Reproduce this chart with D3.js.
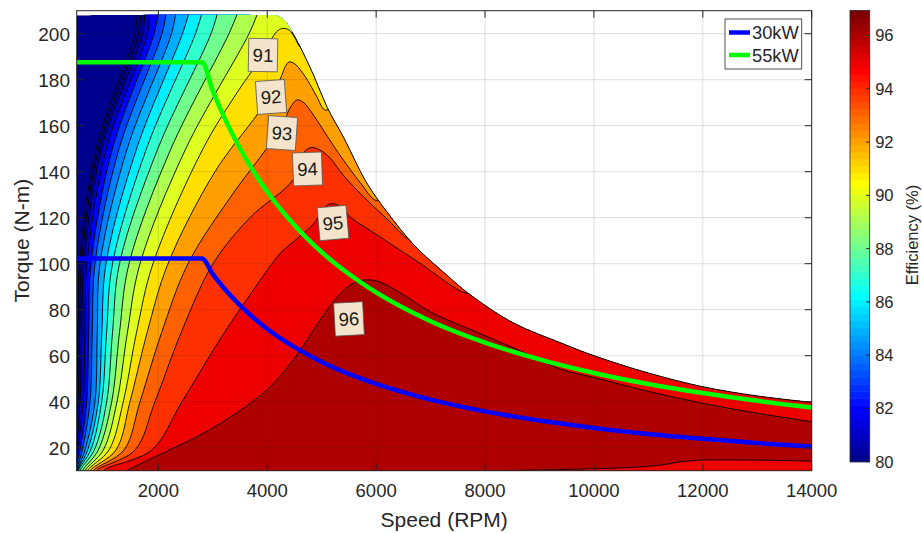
<!DOCTYPE html>
<html><head><meta charset="utf-8">
<script src="https://cdn.jsdelivr.net/npm/d3@7"></script>
<style>
body{margin:0;background:#fff;}
svg{display:block;font-family:"Liberation Sans",Arial,Helvetica,sans-serif;}
</style>
</head><body>
<svg id="chart" width="922" height="533"></svg>
<script>
// ---------------- data ----------------
const speedTicks = [2000, 4000, 6000, 8000, 10000, 12000, 14000];
const torqueTicks = [20, 40, 60, 80, 100, 120, 140, 160, 180, 200];
const colorbarTicks = [80, 82, 84, 86, 88, 90, 92, 94, 96];
const colorRange = [80, 96.94];

const contourLevels = [79, 80, 81, 82, 83, 84, 85, 86, 87, 88, 89, 90, 91, 92, 93, 94, 95, 96];

// each contour: [speed (RPM), torque (N-m)]
const contour79 = [[470,40],[500,45],[525,70],[551,100],[858,150],[1571,200],[1610,209]];
const contour80 = [[470,29],[500,33],[524,40],[553,70],[588,100],[902,150],[1635,200],[1675,209]];
const contour81 = [[470,18],[500,22],[561,40],[594,70],[634,100],[957,150],[1709,200],[1748,209]];
const contour82 = [[470,12],[500,16],[518,19],[621,40],[652,70],[689,100],[1045,150],[1800,200],[1840,209]];
const contour83 = [[470,9],[500,13],[561,19],[684,40],[719,70],[763,100],[1156,150],[1920,200],[1996,209]];
const contour84 = [[490,8],[500,10.5],[603,19],[744,40],[787,70],[836,100],[1279,150],[2067,200],[2145,209]];
const contour85 = [[505,8],[511,10],[652,19],[836,40],[878,70],[928,100],[1428,150],[2241,200],[2320,209]];
const contour86 = [[515,8],[520,10],[702,19],[897,40],[961,70],[1038,100],[1600,150],[2443,200],[2560,209]];
const contour87 = [[524,8],[529,10],[757,19],[959,40],[1049,70],[1158,100],[1782,150],[2682,200],[2800,209]];
const contour88 = [[555,8],[561,10],[823,19],[1051,40],[1158,70],[1286,100],[1991,150],[2967,200],[3085,209]];
const contour89 = [[603,8],[610,10],[897,19],[1143,40],[1286,70],[1461,100],[2232,150],[3297,200],[3455,209]];
const contour90 = [[644,8],[652,10],[989,19],[1240,40],[1431,70],[1663,100],[2504,150],[3665,200],[3825,209]];
const contour91 = [[685,8],[695,10],[1093,19],[1356,40],[1598,70],[1901,100],[2820,150],[3463,175],[3922,190.7],[4087,198.1],[4197,201.4],[4289,202.3],[4399,201.6],[4510,198.1],[4602,194.2],[4680,194]];
const contour92 = [[735,8],[744,10],[1222,19],[1479,40],[1793,70],[2177,100],[3040,140],[3834,165.5],[4234,180.1],[4326,185.5],[4399,187.7],[4510,186.8],[4639,183.3],[4749,179.4],[4896,173.3],[5060,166.8],[5200,168]];
const contour93 = [[795,8],[805,10],[1369,19],[1663,40],[2059,70],[2544,100],[3356,130],[3995,150.3],[4289,160.7],[4418,167.7],[4547,171.2],[4676,169.9],[4823,165.5],[5006,159],[5208,151.6],[5400,145],[5700,135.5],[6000,127.5],[6150,130]];
const contour94 = [[857,8],[867,10],[1571,19],[1938,40],[2418,70],[3004,100],[3683,120],[4474,136.4],[4602,145.1],[4712,149.4],[4822,150.5],[4969,149.4],[5152,146],[5391,138.6],[5827,127.7],[6181,119.9],[6622,110.3],[6800,110]];
const contour95 = [[979,8],[989,10],[1878,19],[2434,40],[3211,70],[4087,100],[4236,104.5],[4603,112],[4878,118.1],[5006,123.3],[5153,126],[5337,125.1],[5520,120.4],[6071,111.7],[6806,100.2],[7664,87.1],[7900,88]];
const contour96Upper = [[1350,9],[1418,10],[1800,14.5],[2200,19],[2765,25.5],[3377,34.2],[3990,45.1],[4479,58.2],[4969,75.5],[5300,86],[5580,91.5],[5830,93],[6100,91.8],[6500,86.5],[7000,79],[7900,69.7],[8800,60.5],[9400,54],[10000,50.5],[11000,44.5],[12000,39.3],[13000,35],[14000,31.3],[14200,30.6]];
const contour96Lower = [[7800,9.3],[8600,10.1],[9600,10.6],[10600,11.3],[11000,11.9],[11280,12.6],[11600,13.9],[12000,14.6],[13000,14.6],[14000,14.2],[14200,14.2]];

// maximum torque envelope of the map
const envelopeCurve = [[500,208],[4000,208],[4200,207.6],[4330,205.5],[4450,201],[4600,194.5],[4850,182],[5100,168],[5400,155],[5830,135],[6200,122.5],[6700,108],[7300,95],[7700,87],[8500,74.5],[9400,65.5],[10000,60],[11000,52.5],[12000,46.5],[13000,42.5],[14000,39.7]];

// constant power lines
const powerSpeeds = [500, 2800, 3000, 3250, 3500, 3750, 4000, 4500, 5000, 5500, 6000, 7000, 8000, 9000, 10000, 11000, 12000, 13000, 14000];
const torque30kW = [102.3, 102.3, 95.5, 88.1, 81.9, 76.4, 71.6, 63.7, 57.3, 52.1, 47.7, 40.9, 35.8, 31.8, 28.6, 26.0, 23.9, 22.0, 20.5];
const torque55kW = [187.6, 187.6, 175.1, 161.6, 150.1, 140.1, 131.3, 116.7, 105.0, 95.5, 87.5, 75.0, 65.7, 58.4, 52.5, 47.7, 43.8, 40.4, 37.5];
const seriesNames = ["30kW", "55kW"];
const seriesColors = ["#0000ff", "#00ff00"];

// contour labels
const labelText = ["91", "92", "93", "94", "95", "96"];
const labelSpeed = [3922, 4069, 4271, 4739, 5207, 5501];
const labelTorque = [190.7, 172.5, 156.8, 141.2, 117.7, 76.0];
const labelAngle = [1, -4, 4, -2, -5, -3];

// ---------------- drawing ----------------
const contourByLevel = {79:contour79,80:contour80,81:contour81,82:contour82,83:contour83,84:contour84,85:contour85,
  86:contour86,87:contour87,88:contour88,89:contour89,90:contour90,91:contour91,92:contour92,93:contour93,94:contour94,95:contour95};

const svg = d3.select("#chart");
const L = 76.7, R = 811.7, T = 10.7, B = 470.7;
const x = d3.scaleLinear().domain([500, 14000]).range([L, R]);
const y = d3.scaleLinear().domain([10, 210]).range([B, T]);
const ink = "#262626";

// MATLAB jet(64)
function jet64(k) { // k = 1..64
  let r, g, b;
  b = k <= 8 ? 0.5 + k/16 : k <= 24 ? 1 : k <= 40 ? (40-k)/16 : 0;
  g = k <= 8 ? 0 : k <= 24 ? (k-8)/16 : k <= 40 ? 1 : k <= 56 ? (56-k)/16 : 0;
  r = k <= 24 ? 0 : k <= 40 ? (k-24)/16 : k <= 56 ? 1 : (72-k)/16;
  const c = v => Math.round(Math.max(0, Math.min(1, v))*255);
  return `rgb(${c(r)},${c(g)},${c(b)})`;
}
function colorFor(v) {
  let k = Math.floor((v - colorRange[0]) / (colorRange[1] - colorRange[0]) * 64) + 1;
  k = Math.max(1, Math.min(64, k));
  return jet64(k);
}

const lineGen = d3.line().x(d => x(d[0])).y(d => y(d[1])).curve(d3.curveCatmullRom.alpha(0.5));

const defs = svg.append("defs");
const envPath = lineGen(envelopeCurve) + `L${x(14000)},${y(10)}L${x(500)},${y(10)}Z`;
defs.append("clipPath").attr("id", "envClip").append("path").attr("d", envPath);
defs.append("clipPath").attr("id", "plotClip").append("rect")
  .attr("x", L).attr("y", T).attr("width", R - L).attr("height", B - T);
defs.append("clipPath").attr("id", "edgeClip").append("rect")
  .attr("x", x(4450)).attr("y", T).attr("width", R - x(4450)).attr("height", B - T);

const map = svg.append("g").attr("clip-path", "url(#envClip)");
map.append("path").attr("d", envPath).attr("fill", colorFor(contourLevels[0] - 1));

contourLevels.forEach(lv => {
  if (lv === 96) return;
  const pts = contourByLevel[lv];
  const first = pts[0], last = pts[pts.length - 1];
  const d = `M${x(first[0])},${y(-50)}L` + lineGen(pts).slice(1) +
    `L${x(last[0])},${y(300)}L${x(20000)},${y(300)}L${x(20000)},${y(-50)}Z`;
  map.append("path").attr("d", d).attr("fill", colorFor(lv));
});
{
  const up = lineGen(contour96Upper);
  const lowRev = lineGen(contour96Lower.slice().reverse());
  map.append("path").attr("d", up + "L" + lowRev.slice(1) + "Z").attr("fill", colorFor(96));
}
contourLevels.forEach(lv => {
  if (lv === 96) return;
  map.append("path").attr("d", lineGen(contourByLevel[lv]))
    .attr("fill", "none").attr("stroke", "#000").attr("stroke-width", 0.9);
});
[contour96Upper, contour96Lower].forEach(pts => {
  map.append("path").attr("d", lineGen(pts))
    .attr("fill", "none").attr("stroke", "#000").attr("stroke-width", 0.9);
});
svg.append("g").attr("clip-path", "url(#edgeClip)").append("path")
  .attr("d", lineGen(envelopeCurve)).attr("fill", "none").attr("stroke", "#000").attr("stroke-width", 1);

// grid
const grid = svg.append("g").attr("stroke", "rgba(38,38,38,0.15)").attr("stroke-width", 1);
speedTicks.forEach(s => grid.append("line").attr("x1", x(s)).attr("x2", x(s)).attr("y1", T).attr("y2", B));
torqueTicks.forEach(t => grid.append("line").attr("x1", L).attr("x2", R).attr("y1", y(t)).attr("y2", y(t)));

// power lines
const plines = svg.append("g").attr("clip-path", "url(#plotClip)");
[torque30kW, torque55kW].forEach((arr, i) => {
  const pts = powerSpeeds.map((s, j) => [s, arr[j]]);
  plines.append("path").attr("d", d3.line().x(d => x(d[0])).y(d => y(d[1])).curve(d3.curveMonotoneX)(pts))
    .attr("fill", "none").attr("stroke", seriesColors[i]).attr("stroke-width", 4.5);
});

// contour labels
labelText.forEach((t, i) => {
  const g = svg.append("g").attr("transform", `translate(${x(labelSpeed[i])},${y(labelTorque[i])}) rotate(${labelAngle[i]})`);
  g.append("rect").attr("x", -14.5).attr("y", -16.5).attr("width", 29).attr("height", 33)
    .attr("fill", "#f3e4cb").attr("stroke", "#555").attr("stroke-width", 0.8);
  g.append("text").attr("text-anchor", "middle").attr("dy", "0.36em").attr("font-size", 18.5)
    .attr("fill", "#1a1a1a").text(t);
});

// axes box and ticks
const ax = svg.append("g");
ax.append("rect").attr("x", L).attr("y", T).attr("width", R - L).attr("height", B - T)
  .attr("fill", "none").attr("stroke", ink).attr("stroke-width", 1);
const tl = 7;
speedTicks.forEach(s => {
  ax.append("line").attr("x1", x(s)).attr("x2", x(s)).attr("y1", B).attr("y2", B - tl).attr("stroke", ink);
  ax.append("line").attr("x1", x(s)).attr("x2", x(s)).attr("y1", T).attr("y2", T + tl).attr("stroke", ink);
  ax.append("text").attr("x", x(s)).attr("y", 497).attr("text-anchor", "middle")
    .attr("font-size", 18.5).attr("fill", ink).text(s);
});
torqueTicks.forEach(t => {
  ax.append("line").attr("x1", L).attr("x2", L + tl).attr("y1", y(t)).attr("y2", y(t)).attr("stroke", ink);
  ax.append("line").attr("x1", R).attr("x2", R - tl).attr("y1", y(t)).attr("y2", y(t)).attr("stroke", ink);
  ax.append("text").attr("x", 70).attr("y", y(t)).attr("dy", "0.36em").attr("text-anchor", "end")
    .attr("font-size", 19).attr("fill", ink).text(t);
});
ax.append("text").attr("x", (L + R) / 2).attr("y", 527).attr("text-anchor", "middle")
  .attr("font-size", 21).attr("fill", ink).text("Speed (RPM)");
ax.append("text").attr("transform", `translate(29,${(T + B) / 2}) rotate(-90)`).attr("text-anchor", "middle")
  .attr("font-size", 21).attr("fill", ink).text("Torque (N-m)");

// colorbar
const cbX = 850, cbW = 19.7, cbTop = 10.5, cbBot = 461.7;
const cy = d3.scaleLinear().domain(colorRange).range([cbBot, cbTop]);
const cb = svg.append("g");
for (let k = 1; k <= 64; k++) {
  const v0 = colorRange[0] + (k - 1) / 64 * (colorRange[1] - colorRange[0]);
  const v1 = colorRange[0] + k / 64 * (colorRange[1] - colorRange[0]);
  cb.append("rect").attr("x", cbX).attr("y", cy(v1)).attr("width", cbW).attr("height", cy(v0) - cy(v1) + 0.6)
    .attr("fill", jet64(k));
}
cb.append("rect").attr("x", cbX).attr("y", cbTop).attr("width", cbW).attr("height", cbBot - cbTop)
  .attr("fill", "none").attr("stroke", ink).attr("stroke-width", 0.8);
colorbarTicks.forEach(v => {
  cb.append("line").attr("x1", cbX + cbW).attr("x2", cbX + cbW - 3.5).attr("y1", cy(v)).attr("y2", cy(v)).attr("stroke", ink);
  cb.append("text").attr("x", cbX + cbW + 5.5).attr("y", cy(v)).attr("dy", "0.36em")
    .attr("font-size", 16.5).attr("fill", ink).text(v);
});
cb.append("text").attr("transform", `translate(918,235) rotate(-90)`).attr("text-anchor", "middle")
  .attr("font-size", 16.5).attr("fill", ink).text("Efficiency (%)");

// legend
const lg = svg.append("g");
lg.append("rect").attr("x", 725).attr("y", 19).attr("width", 76.7).attr("height", 50)
  .attr("fill", "#fff").attr("stroke", ink).attr("stroke-width", 0.8);
seriesNames.forEach((n, i) => {
  const ly = 32.5 + i * 22.5;
  lg.append("line").attr("x1", 729).attr("x2", 750).attr("y1", ly).attr("y2", ly)
    .attr("stroke", seriesColors[i]).attr("stroke-width", 4.5);
  lg.append("text").attr("x", 752).attr("y", ly).attr("dy", "0.36em").attr("font-size", 18.3)
    .attr("fill", ink).text(n);
});
</script>
</body></html>
